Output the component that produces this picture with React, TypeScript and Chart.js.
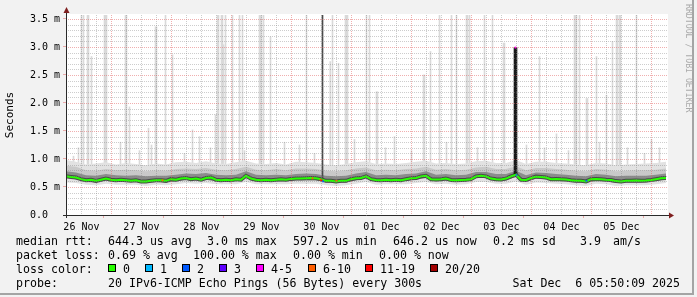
import React, { useEffect, useRef } from 'react';
import { Chart, registerables } from 'chart.js';

Chart.register(...registerables);

// ---------------- data ----------------
// time axis: hours since Nov 26 05:50 (10 days = 240 h)
const SPAN_HOURS = 240;
const FIRST_MIDNIGHT = 18 + 10 / 60; // Nov 27 00:00
const FIRST_NOON = 6 + 10 / 60; // Nov 26 12:00

const dateLabels = ['26 Nov', '27 Nov', '28 Nov', '29 Nov', '30 Nov', '01 Dec', '02 Dec', '03 Dec', '04 Dec', '05 Dec'];
const yTickLabels = ['0.0  ', '0.5 m', '1.0 m', '1.5 m', '2.0 m', '2.5 m', '3.0 m', '3.5 m'];
const Y_MAX = 3.5714; // ms

// median rtt (ms), one value every 2 hours
const medianStep = 2;
const medianRtt = [
  0.69, 0.68, 0.67, 0.64, 0.62, 0.63, 0.61, 0.63, 0.65, 0.63,
  0.62, 0.63, 0.62, 0.61, 0.62, 0.60, 0.60, 0.61, 0.62, 0.62,
  0.61, 0.64, 0.63, 0.65, 0.66, 0.64, 0.65, 0.63, 0.66, 0.67,
  0.63, 0.62, 0.63, 0.62, 0.64, 0.63, 0.70, 0.65, 0.63, 0.62,
  0.63, 0.62, 0.63, 0.64, 0.63, 0.645, 0.65, 0.65, 0.655, 0.66,
  0.655, 0.64, 0.61, 0.61, 0.60, 0.61, 0.61, 0.64, 0.655, 0.66,
  0.69, 0.64, 0.625, 0.62, 0.63, 0.62, 0.63, 0.62, 0.64, 0.655,
  0.66, 0.69, 0.70, 0.64, 0.635, 0.64, 0.65, 0.625, 0.62, 0.625,
  0.63, 0.64, 0.69, 0.70, 0.69, 0.65, 0.64, 0.635, 0.65, 0.69,
  0.72, 0.63, 0.625, 0.66, 0.685, 0.68, 0.67, 0.64, 0.645, 0.64,
  0.635, 0.62, 0.61, 0.61, 0.60, 0.64, 0.645, 0.64, 0.63, 0.625,
  0.605, 0.60, 0.61, 0.61, 0.615, 0.61, 0.615, 0.625, 0.64, 0.655,
  0.66,
];

// smoke envelopes (ms), one value every 4 hours
const smokeStep = 4;
const smokeLightHi = [
  0.98, 0.95, 0.90, 0.92, 0.94, 0.90, 0.93, 0.91, 0.89, 0.92,
  0.90, 0.94, 0.95, 0.93, 0.96, 0.92, 0.91, 0.94, 0.97, 0.92,
  0.91, 0.93, 0.90, 0.95, 0.94, 0.93, 0.90, 0.89, 0.91, 0.94,
  0.96, 0.91, 0.92, 0.91, 0.93, 0.95, 0.97, 0.92, 0.93, 0.91,
  0.92, 0.96, 0.97, 0.93, 0.93, 0.98, 0.91, 0.95, 0.95, 0.93,
  0.92, 0.90, 0.89, 0.93, 0.92, 0.89, 0.90, 0.91, 0.92, 0.93,
  0.95,
];
const smokeMidHi = [
  0.88, 0.86, 0.80, 0.79, 0.82, 0.80, 0.81, 0.80, 0.78, 0.80,
  0.79, 0.82, 0.83, 0.82, 0.84, 0.81, 0.80, 0.82, 0.86, 0.81,
  0.80, 0.82, 0.80, 0.83, 0.83, 0.82, 0.79, 0.78, 0.80, 0.83,
  0.85, 0.80, 0.81, 0.80, 0.82, 0.83, 0.86, 0.81, 0.82, 0.80,
  0.81, 0.85, 0.86, 0.82, 0.82, 0.87, 0.80, 0.84, 0.84, 0.82,
  0.81, 0.79, 0.78, 0.82, 0.81, 0.78, 0.79, 0.80, 0.80, 0.81,
  0.83,
];
const smokeDarkHi = [
  0.78, 0.76, 0.71, 0.70, 0.73, 0.71, 0.70, 0.71, 0.69, 0.70,
  0.70, 0.72, 0.74, 0.73, 0.75, 0.72, 0.71, 0.72, 0.78, 0.72,
  0.71, 0.72, 0.71, 0.73, 0.74, 0.73, 0.70, 0.69, 0.70, 0.74,
  0.77, 0.71, 0.72, 0.71, 0.73, 0.74, 0.78, 0.72, 0.73, 0.71,
  0.72, 0.77, 0.77, 0.73, 0.73, 0.79, 0.71, 0.76, 0.75, 0.73,
  0.72, 0.70, 0.69, 0.73, 0.72, 0.69, 0.70, 0.70, 0.70, 0.72,
  0.74,
];
const smokeDarkLo = [
  0.66, 0.64, 0.59, 0.58, 0.62, 0.59, 0.59, 0.59, 0.57, 0.59,
  0.58, 0.60, 0.63, 0.62, 0.63, 0.60, 0.60, 0.60, 0.66, 0.60,
  0.60, 0.60, 0.60, 0.62, 0.62, 0.62, 0.58, 0.57, 0.58, 0.62,
  0.66, 0.59, 0.60, 0.60, 0.61, 0.63, 0.66, 0.60, 0.62, 0.59,
  0.60, 0.66, 0.66, 0.61, 0.62, 0.68, 0.59, 0.65, 0.64, 0.61,
  0.60, 0.58, 0.57, 0.61, 0.60, 0.57, 0.58, 0.58, 0.58, 0.61,
  0.63,
];
const smokeLightLo = [
  0.58, 0.57, 0.54, 0.53, 0.56, 0.54, 0.54, 0.54, 0.52, 0.54,
  0.53, 0.55, 0.57, 0.56, 0.57, 0.55, 0.55, 0.55, 0.59, 0.55,
  0.55, 0.55, 0.55, 0.56, 0.56, 0.56, 0.53, 0.52, 0.53, 0.56,
  0.59, 0.54, 0.55, 0.55, 0.55, 0.57, 0.59, 0.55, 0.56, 0.54,
  0.55, 0.59, 0.59, 0.56, 0.56, 0.60, 0.54, 0.58, 0.57, 0.56,
  0.55, 0.53, 0.52, 0.56, 0.55, 0.52, 0.53, 0.53, 0.53, 0.55,
  0.57,
];

// outlier pings [hour, max rtt ms] (3.6 = beyond top of graph)
const lightSpikes = [
  [3.0, 1.05], [5.0, 1.2], [6.2, 3.6], [7.0, 3.6], [8.6, 3.6], [9.0, 3.6], [10.2, 2.83],
  [15.4, 3.6], [15.8, 3.6], [16.2, 3.6], [21.8, 1.3], [23.8, 3.6], [24.2, 3.6], [25.4, 1.93],
  [29.4, 1.15], [33.0, 1.55], [34.2, 1.25], [35.8, 3.36], [36.2, 3.36], [39.8, 3.6], [42.6, 2.86],
  [47.4, 1.1], [50.6, 1.52], [53.4, 1.4], [57.8, 1.2], [59.8, 1.79], [60.6, 3.6], [61.0, 3.6],
  [62.2, 3.6], [62.6, 3.6], [63.0, 3.04], [63.8, 3.6], [66.6, 3.6], [69.4, 3.6], [70.6, 3.6],
  [71.4, 1.15], [77.4, 3.6], [77.8, 3.6], [78.2, 3.6], [79.0, 3.6], [81.8, 3.18], [87.4, 1.3],
  [93.4, 1.25], [96.2, 3.6], [99.4, 1.1], [105.7, 2.74], [106.6, 3.6], [109.0, 2.71],
  [111.8, 3.6], [112.2, 3.6], [112.6, 3.6], [115.4, 1.35], [120.2, 3.6], [121.4, 3.6],
  [124.2, 2.2], [124.6, 2.2], [127.8, 1.2], [131.4, 1.4], [138.2, 1.15], [143.0, 2.5],
  [143.4, 2.5], [145.8, 2.92], [149.4, 3.6], [152.2, 1.3], [154.2, 3.6], [156.2, 3.6],
  [160.2, 3.6], [160.6, 3.6], [161.4, 3.6], [164.6, 1.2], [167.4, 3.6], [170.6, 3.6],
  [175.0, 3.07], [175.4, 3.07], [184.2, 1.25], [189.4, 2.83], [191.4, 1.2], [196.2, 1.45],
  [201.0, 1.15], [203.4, 3.6], [203.8, 3.6], [204.2, 3.6], [205.4, 3.6], [208.2, 2.08],
  [208.6, 2.08], [212.2, 2.83], [213.4, 1.3], [216.2, 2.14], [218.6, 3.1], [220.2, 3.6],
  [220.6, 3.6], [221.4, 3.6], [221.8, 3.6], [224.6, 1.2], [228.2, 3.6], [231.4, 1.1],
  [234.2, 1.35], [237.4, 1.2],
];
const greySpikes = [[102.6, 3.6]];
const blackSpikes = [[179.4, 2.99], [179.8, 2.99], [180.2, 2.99]];

// loss-coloured median marks [hour, rtt ms, loss level index]
const lossMarks = [
  [38.6, 0.62, 5], [98.6, 0.655, 5], [101.8, 0.63, 5], [102.2, 0.62, 6], [102.8, 0.60, 2],
  [108.2, 0.61, 5], [179.8, 2.99, 4], [180.2, 0.71, 2], [208.2, 0.61, 2],
];

const lossColors = ['#26ff00', '#00b8ff', '#0059ff', '#5e00ff', '#ff00ff', '#ff5e00', '#ff0000', '#a10000'];
const lossLabels = ['0', '1', '2', '3', '4-5', '6-10', '11-19', '20/20'];

const rttStats = ['644.3 us avg', '  3.0 ms max', '597.2 us min', '646.2 us now', '0.2 ms sd', '3.9', 'am/s'];
const lossStats = ['0.69 % avg', '100.00 % max', '0.00 % min', '0.00 % now'];
const probeText = '20 IPv6-ICMP Echo Pings (56 Bytes) every 300s';
const stampText = 'Sat Dec  6 05:50:09 2025';
const yTitle = 'Seconds';
const watermark = 'RRDTOOL / TOBI OETIKER';

// ---------------- helpers ----------------
const xGrid: number[] = [];
for (let k = 0; k < 40; k++) xGrid.push(FIRST_MIDNIGHT - 18 + 6 * k);
const yGrid: number[] = [];
for (let k = 1; k <= 35; k++) yGrid.push(k / 10);

const near = (a: number, b: number) => Math.abs(a - b) < 1e-3;
const isMidnight = (h: number) => { const r = ((h - FIRST_MIDNIGHT) % 24 + 24) % 24; return near(r, 0) || near(r, 24); };
const noonIndex = (h: number) => { const k = Math.round((h - FIRST_NOON) / 24); return near(h, FIRST_NOON + 24 * k) ? k : -1; };
const isMajorY = (v: number) => Math.abs(v * 2 - Math.round(v * 2)) < 1e-6;

const MAJOR = 'rgba(225,95,95,0.5)';
const MINOR = 'rgba(130,130,130,0.4)';
const MONO = 'DejaVu Sans Mono';

const series = (arr: number[], step: number) => arr.map((v, i) => ({ x: i * step, y: v }));
const bars = (arr: number[][], base: number) => arr.map(([h, t]) => ({ x: h, y: [base, t] }));

const decor = {
  id: 'decor',
  beforeDraw(chart: any) {
    const { ctx, chartArea: a } = chart;
    ctx.save();
    ctx.fillStyle = '#f2f2f2';
    ctx.fillRect(0, 0, chart.width, chart.height);
    ctx.fillStyle = '#ffffff';
    ctx.fillRect(a.left, a.top - 1, a.right - a.left + 2, a.bottom - a.top + 1);
    ctx.restore();
  },
  afterDatasetsDraw(chart: any) {
    const { ctx, chartArea: a, scales } = chart;
    const xs = scales.x, ys = scales.y;
    ctx.save();
    ctx.lineWidth = 1;
    ctx.setLineDash([1, 1]);
    xGrid.forEach((v) => {
      const x = Math.round(xs.getPixelForValue(v)) + 0.5;
      ctx.strokeStyle = isMidnight(v) ? MAJOR : MINOR;
      ctx.beginPath();
      ctx.moveTo(x, a.top);
      ctx.lineTo(x, a.bottom);
      ctx.stroke();
    });
    yGrid.forEach((v) => {
      const y = Math.round(ys.getPixelForValue(v)) + 0.5;
      ctx.strokeStyle = isMajorY(v) ? MAJOR : MINOR;
      ctx.beginPath();
      ctx.moveTo(a.left, y);
      ctx.lineTo(a.right + 1, y);
      ctx.stroke();
    });
    ctx.restore();
  },
  afterDraw(chart: any) {
    const { ctx, chartArea: a } = chart;
    ctx.save();
    // frame shade
    ctx.fillStyle = '#a4a4a4';
    ctx.fillRect(692, 0, 2, 295);
    ctx.fillRect(0, 293, 694, 2);
    // axes
    ctx.strokeStyle = '#2a2a2a';
    ctx.lineWidth = 1;
    ctx.beginPath();
    ctx.moveTo(a.left - 3, a.bottom + 0.5);
    ctx.lineTo(a.right + 4, a.bottom + 0.5);
    ctx.moveTo(a.left + 0.5, a.bottom + 3);
    ctx.lineTo(a.left + 0.5, a.top - 3);
    ctx.stroke();
    ctx.fillStyle = '#7f1f1f';
    ctx.beginPath();
    ctx.moveTo(a.right + 3, a.bottom - 2.5);
    ctx.lineTo(a.right + 8, a.bottom + 0.5);
    ctx.lineTo(a.right + 3, a.bottom + 3.5);
    ctx.closePath();
    ctx.fill();
    ctx.beginPath();
    ctx.moveTo(a.left - 2.5, a.top - 2);
    ctx.lineTo(a.left + 0.5, a.top - 8);
    ctx.lineTo(a.left + 3.5, a.top - 2);
    ctx.closePath();
    ctx.fill();

    // watermark
    ctx.save();
    ctx.translate(688, 4);
    ctx.rotate(Math.PI / 2);
    ctx.font = `8.2px "${MONO}"`;
    ctx.fillStyle = '#aaaaaa';
    ctx.textBaseline = 'middle';
    ctx.textAlign = 'left';
    ctx.fillText(watermark, 0, 0);
    ctx.restore();

    // legend
    ctx.font = `11.6px "${MONO}"`;
    ctx.fillStyle = '#000';
    ctx.textBaseline = 'alphabetic';
    ctx.textAlign = 'left';
    const rows = [245, 259, 273, 287];
    ctx.fillText('median rtt:', 16, rows[0]);
    const rttX = [108, 193, 293, 393, 493, 580, 613];
    rttStats.forEach((t, i) => ctx.fillText(t, rttX[i], rows[0]));
    ctx.fillText('packet loss:', 16, rows[1]);
    const lossX = [108, 193, 293, 379];
    lossStats.forEach((t, i) => ctx.fillText(t, lossX[i], rows[1]));
    ctx.fillText('loss color:', 16, rows[2]);
    const boxX = [108, 145, 182, 219, 256, 308, 365, 430];
    lossLabels.forEach((t, i) => {
      ctx.fillStyle = lossColors[i];
      ctx.fillRect(boxX[i], 264, 8, 8);
      ctx.strokeStyle = '#000';
      ctx.strokeRect(boxX[i] + 0.5, 264.5, 7, 7);
      ctx.fillStyle = '#000';
      ctx.fillText(t, boxX[i] + 15, rows[2]);
    });
    ctx.fillText('probe:', 16, rows[3]);
    ctx.fillText(probeText, 108, rows[3]);
    ctx.textAlign = 'right';
    ctx.fillText(stampText, 680, rows[3]);
    ctx.restore();
  },
};

export default function App() {
  const ref = useRef<HTMLCanvasElement | null>(null);
  useEffect(() => {
    if (!ref.current) return;
    Chart.defaults.font.family = MONO;
    const chart = new Chart(ref.current, {
      type: 'line',
      data: {
        datasets: [
          // 0 light lower
          { data: series(smokeLightLo, smokeStep), borderWidth: 0, pointRadius: 0, fill: false, order: 20 },
          // 1 light upper -> fill to 0
          { data: series(smokeLightHi, smokeStep), borderWidth: 0, pointRadius: 0, backgroundColor: '#e2e2e2', fill: 0, order: 10 },
          // 2 dark lower
          { data: series(smokeDarkLo, smokeStep), borderWidth: 0, pointRadius: 0, fill: false, order: 20 },
          // 3 mid upper -> fill to 2
          { data: series(smokeMidHi, smokeStep), borderWidth: 0, pointRadius: 0, backgroundColor: '#c9c9c9', fill: 2, order: 9 },
          // 4 dark upper -> fill to 2
          { data: series(smokeDarkHi, smokeStep), borderWidth: 0, pointRadius: 0, backgroundColor: '#8c8c8c', fill: 2, order: 8 },
          // 5 light spikes
          { type: 'bar', data: bars(lightSpikes, 0.62), backgroundColor: '#d9d9d9', barThickness: 1, grouped: false, borderWidth: 0, order: 11 },
          // 6 median shadow
          { data: series(medianRtt, medianStep), borderColor: '#4a4a4a', borderWidth: 4, pointRadius: 0, fill: false, order: 5 },
          // 7 grey dark spike
          { type: 'bar', data: bars(greySpikes, 0.62), backgroundColor: '#4a4a4a', barThickness: 1, grouped: false, borderWidth: 0, order: 4 },
          // 8 black spike
          { type: 'bar', data: bars(blackSpikes, 0.70), backgroundColor: '#1a1a1a', barThickness: 1, grouped: false, borderWidth: 0, order: 4 },
          // 9 median
          { data: series(medianRtt, medianStep), borderColor: lossColors[0], borderWidth: 2, pointRadius: 0, fill: false, order: 2 },
          // 10 loss marks
          {
            data: lossMarks.map(([h, v]) => ({ x: h, y: v })), showLine: false, pointStyle: 'rect', pointRadius: 1.3, pointBorderWidth: 0,
            pointBackgroundColor: lossMarks.map(m => lossColors[m[2]]), order: 1,
          },
        ] as any,
      },
      options: {
        responsive: false,
        animation: false,
        devicePixelRatio: 1,
        events: [],
        layout: { padding: { left: 0, top: 15, right: 31, bottom: 0 } },
        elements: { line: { tension: 0 } },
        plugins: { legend: { display: false }, tooltip: { enabled: false } },
        scales: {
          x: {
            type: 'linear', min: 0, max: SPAN_HOURS, offset: false, z: 1,
            afterBuildTicks: (s: any) => { s.ticks = xGrid.map(v => ({ value: v })); },
            afterFit: (s: any) => { s.height = 82; },
            grid: {
              drawOnChartArea: false,
              lineWidth: 1, drawTicks: true, tickLength: 3,
              tickColor: (c: any) => (c.tick && isMidnight(c.tick.value) ? MAJOR : 'rgba(0,0,0,0)'),
            },
            border: { display: false },
            ticks: {
              autoSkip: false, maxRotation: 0, minRotation: 0, padding: 3, color: '#000',
              font: { family: MONO, size: 10 },
              callback: (v: any) => { const k = noonIndex(Number(v)); return k >= 0 ? dateLabels[k] : ''; },
            },
          },
          y: {
            type: 'linear', min: 0, max: Y_MAX, z: 1,
            afterBuildTicks: (s: any) => { s.ticks = [0, ...yGrid].map(v => ({ value: v })); },
            afterFit: (s: any) => { s.width = 66; },
            title: { display: true, text: yTitle, color: '#000', font: { family: MONO, size: 11 }, padding: { top: 4, bottom: 0 } },
            grid: {
              drawOnChartArea: false,
              lineWidth: 1, drawTicks: true, tickLength: 3,
              tickColor: (c: any) => (c.tick && isMajorY(c.tick.value) ? MAJOR : 'rgba(0,0,0,0)'),
            },
            border: { display: false },
            ticks: {
              autoSkip: false, padding: 3, color: '#000',
              font: { family: MONO, size: 10 },
              callback: (v: any) => (isMajorY(Number(v)) ? yTickLabels[Math.round(Number(v) * 2)] : ''),
            },
          },
        },
      } as any,
      plugins: [decor],
    });
    return () => chart.destroy();
  }, []);
  return (
    <div style={{ position: 'fixed', left: 0, top: 0, width: 697, height: 297 }}>
      <canvas ref={ref} width={697} height={297} style={{ width: 697, height: 297, display: 'block' }} />
    </div>
  );
}
